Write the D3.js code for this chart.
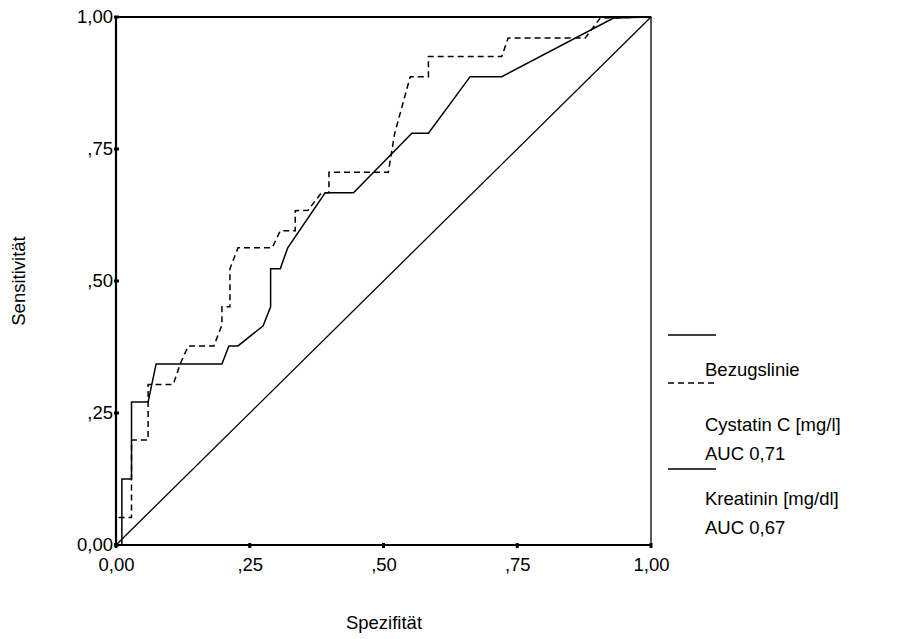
<!DOCTYPE html>
<html><head><meta charset="utf-8">
<script src="https://cdn.jsdelivr.net/npm/d3@7"></script>
<style>body{margin:0;background:#fff}text{font-family:"Liberation Sans",Arial,sans-serif;font-size:18.5px;fill:#000}</style>
</head><body><svg id="c" width="899" height="639"></svg>
<script>
// ROC curves: [1 - specificity, sensitivity]
var kreatinin = [[0,0],[0.011,0],[0.011,0.125],[0.029,0.125],[0.029,0.271],[0.060,0.271],[0.075,0.343],[0.198,0.343],[0.211,0.377],[0.228,0.377],[0.275,0.415],[0.289,0.451],[0.289,0.523],[0.307,0.523],[0.321,0.563],[0.391,0.667],[0.444,0.667],[0.553,0.780],[0.584,0.780],[0.662,0.887],[0.721,0.887],[0.930,0.998],[1,1]];
var cystatin = [[0,0],[0,0.052],[0.029,0.052],[0.029,0.199],[0.060,0.199],[0.060,0.304],[0.107,0.304],[0.120,0.343],[0.135,0.377],[0.183,0.377],[0.198,0.417],[0.198,0.451],[0.213,0.451],[0.213,0.523],[0.228,0.563],[0.292,0.563],[0.307,0.595],[0.335,0.595],[0.335,0.633],[0.359,0.634],[0.384,0.667],[0.398,0.667],[0.398,0.706],[0.509,0.706],[0.521,0.780],[0.550,0.887],[0.584,0.887],[0.584,0.925],[0.721,0.925],[0.733,0.960],[0.877,0.960],[0.905,0.998],[1,1]];
var bezug = [[0,0],[1,1]];
var ticks = [0, 0.25, 0.5, 0.75, 1];
var tickLabels = ["0,00", ",25", ",50", ",75", "1,00"];

var svg = d3.select("#c");
var x = d3.scaleLinear().domain([0,1]).range([116,651]);
var y = d3.scaleLinear().domain([0,1]).range([545,17]);
var line = d3.line().x(function(d){return x(d[0]);}).y(function(d){return y(d[1]);});

// frame
svg.append("rect").attr("x",x(0)).attr("y",y(1)).attr("width",x(1)-x(0)).attr("height",y(0)-y(1))
  .attr("fill","none").attr("stroke","#000").attr("stroke-width",1.3);
svg.append("line").attr("x1",x(0)).attr("x2",x(0)).attr("y1",y(0)).attr("y2",y(1)).attr("stroke","#000").attr("stroke-width",2.2);
svg.append("line").attr("x1",x(0)).attr("x2",x(1)).attr("y1",y(0)).attr("y2",y(0)).attr("stroke","#000").attr("stroke-width",2.2);
svg.append("line").attr("x1",x(0)).attr("x2",x(1)).attr("y1",y(1)).attr("y2",y(1)).attr("stroke","#000").attr("stroke-width",2);

var yAxis = d3.axisLeft(y).tickValues(ticks).tickSize(0).tickPadding(3).tickFormat(function(d,i){return tickLabels[i];});
var ga = svg.append("g").attr("transform","translate("+x(0)+",0)").call(yAxis);
ga.select(".domain").remove();
ga.selectAll("text").style("font-size","18.5px").attr("font-family","Liberation Sans, Arial");
var xAxis = d3.axisBottom(x).tickValues(ticks).tickSize(0).tickPadding(13).tickFormat(function(d,i){return tickLabels[i];});
var gb = svg.append("g").attr("transform","translate(0,"+y(0)+")").call(xAxis);
gb.select(".domain").remove();
gb.selectAll("text").style("font-size","18.5px").attr("font-family","Liberation Sans, Arial");

// tick stubs
svg.selectAll(".ty").data(ticks).enter().append("line").attr("x1",x(0)-2).attr("x2",x(0)+3)
  .attr("y1",function(d){return y(d);}).attr("y2",function(d){return y(d);}).attr("stroke","#000").attr("stroke-width",3);
svg.selectAll(".tx").data(ticks).enter().append("line").attr("y1",y(0)-2).attr("y2",y(0)+3)
  .attr("x1",function(d){return x(d);}).attr("x2",function(d){return x(d);}).attr("stroke","#000").attr("stroke-width",3);

svg.append("path").datum(bezug).attr("d",line).attr("fill","none").attr("stroke","#000").attr("stroke-width",1.3);
svg.append("path").datum(kreatinin).attr("d",line).attr("fill","none").attr("stroke","#000").attr("stroke-width",1.5);
svg.append("path").datum(cystatin).attr("d",line).attr("fill","none").attr("stroke","#000").attr("stroke-width",1.5).attr("stroke-dasharray","6,4");

// axis titles
svg.append("text").attr("x",384).attr("y",629).attr("text-anchor","middle").text("Spezifität");
svg.append("text").attr("transform","translate(25,281) rotate(-90)").attr("text-anchor","middle").text("Sensitivität");

// legend
svg.append("line").attr("x1",668).attr("x2",716).attr("y1",335).attr("y2",335).attr("stroke","#000").attr("stroke-width",1.3);
svg.append("line").attr("x1",668).attr("x2",716).attr("y1",383).attr("y2",383).attr("stroke","#000").attr("stroke-width",1.3).attr("stroke-dasharray","6,4");
svg.append("line").attr("x1",668).attr("x2",716).attr("y1",469).attr("y2",469).attr("stroke","#000").attr("stroke-width",1.3);
var leg = [["Bezugslinie",376],["Cystatin C [mg/l]",431],["AUC 0,71",460],["Kreatinin [mg/dl]",505],["AUC 0,67",534]];
svg.selectAll(".lg").data(leg).enter().append("text").attr("x",705).attr("y",function(d){return d[1];}).text(function(d){return d[0];});
</script></body></html>
